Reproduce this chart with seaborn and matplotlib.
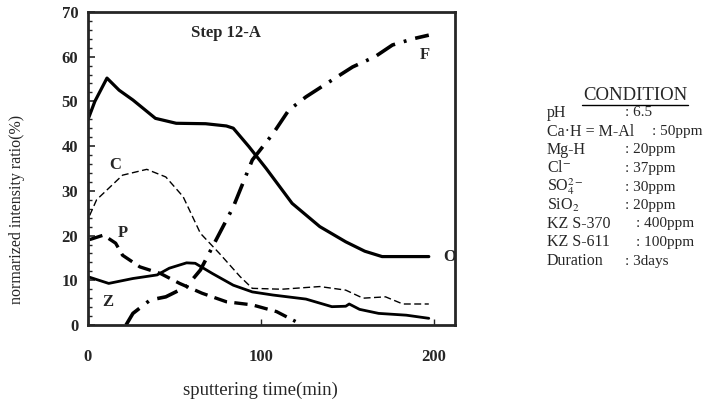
import numpy as np
import pandas as pd
import matplotlib
matplotlib.use("Agg")
import matplotlib.pyplot as plt
import seaborn as sns
from matplotlib.ticker import MultipleLocator

sns.set_style("ticks")
plt.rcParams['font.family'] = ['Liberation Serif', 'DejaVu Serif']
plt.rcParams['mathtext.fontset'] = 'stix'

# ==================== 数据 ====================
o_t = [0, 4, 11, 18, 26, 39, 51, 68, 80, 84, 93, 103, 118, 134, 149, 160, 170, 197]
o_v = [45.9, 50, 55.2, 52.5, 50.3, 46.2, 45.1, 45, 44.5, 44, 39.9, 35, 27.2, 22, 18.6, 16.5, 15.3, 15.3]

f_t = [22, 26, 36, 45, 57, 65, 72, 84, 95, 107, 116, 126, 138, 153, 166, 176, 188, 197]
f_v = [0, 2.6, 5.6, 6.3, 8.6, 12.3, 17.5, 26.4, 36.9, 42.8, 48, 51, 54, 57.7, 60, 62.6, 64, 64.8]

c_t = [1, 5, 11, 20, 34, 45, 55, 65, 76, 88, 95, 112, 134, 149, 159, 172, 182, 197]
c_v = [24.5, 28, 30.2, 33.5, 34.8, 33.1, 28.7, 20.5, 16, 10.8, 8.2, 8, 8.6, 7.8, 6, 6.3, 4.7, 4.7]

p_t = [1, 9, 16, 20, 30, 42, 53, 66, 80, 95, 109, 120]
p_v = [19.1, 20.1, 18.3, 15.6, 13, 11.5, 9.3, 7.1, 5.2, 4.5, 3, 0.8]

z_t = [0, 12, 26, 40, 47, 57, 62, 72, 84, 95, 107, 126, 141, 149, 151, 157, 168, 184, 197]
z_v = [10.8, 9.3, 10.4, 11.2, 12.7, 13.9, 13.8, 11.5, 8.9, 7.4, 6.7, 5.8, 4.1, 4.2, 4.7, 3.5, 2.6, 2.2, 1.5]

cond_keys = ['pH', 'Ca·H = M-Al', 'Mg-H', r'Cl$^{-}$', r'SO$_4^{2-}$', r'SiO$_2$',
             'KZ S-370', 'KZ S-611', 'Duration']
cond_vals = [': 6.5', ': 50ppm', ': 20ppm', ': 37ppm', ': 30ppm', ': 20ppm',
             ': 400ppm', ': 100ppm', ': 3days']

# 各曲线样式
series = {
    'O': (o_t, o_v, dict(lw=2.3, linestyle='-')),
    'F': (f_t, f_v, dict(lw=2.6, linestyle=(0, (6, 2.5, 0.8, 2.5)))),
    'C': (c_t, c_v, dict(lw=1.0, linestyle=(0, (5, 2.5)))),
    'P': (p_t, p_v, dict(lw=2.4, linestyle=(0, (4, 2.2)))),
    'Z': (z_t, z_v, dict(lw=2.0, linestyle='-')),
}

fig = plt.figure(figsize=(7.15, 4.03), dpi=100)
ax = fig.add_axes([0.123, 0.1935, 0.513, 0.777])

for name, (t, v, style) in series.items():
    df = pd.DataFrame({'t': t, 'v': v})
    sns.lineplot(data=df, x='t', y='v', ax=ax, color='black', sort=False,
                 estimator=None, **style)

ax.set_xlim(0, 212)
ax.set_ylim(0, 70)
ax.xaxis.set_major_locator(MultipleLocator(100))
ax.yaxis.set_major_locator(MultipleLocator(10))
ax.yaxis.set_minor_locator(MultipleLocator(2))
ax.tick_params(which='both', direction='in', top=False, right=False)
ax.tick_params(axis='y', which='major', length=5, width=1.2, pad=7)
ax.tick_params(axis='y', which='minor', length=3, width=1.0)
ax.tick_params(axis='x', which='major', length=4, width=1.0, pad=17)
for lbl in ax.get_xticklabels() + ax.get_yticklabels():
    lbl.set_fontsize(12)
    lbl.set_fontweight('bold')
for sp in ax.spines.values():
    sp.set_linewidth(2.0)
    sp.set_zorder(5)

ax.set_xlabel('sputtering time(min)', fontsize=13.5)
ax.set_ylabel('normarized intensity ratio(%)', fontsize=11.5)
ax.xaxis.set_label_coords(0.469, -0.18)
ax.yaxis.set_label_coords(-0.172, 0.37)

# 曲线标注
labels = [('Step 12-A', 80, 65.3), ('F', 195, 60.3), ('O', 209, 15.3), ('C', 15.6, 35.7),
          ('P', 20.4, 20.5), ('Z', 11.7, 5.2)]
for txt, x, y in labels:
    ax.text(x, y, txt, fontsize=12, fontweight='bold',
            ha='center', va='center', clip_on=False, zorder=3)

# 条件表
fig.text(635 / 715, 1 - 95 / 403, 'CONDITION', fontsize=13.5, ha='center', va='center')
fig.add_artist(plt.Line2D([582 / 715, 688 / 715], [1 - 105 / 403, 1 - 105 / 403],
                          color='black', lw=1.0))
val_x = [625, 652, 625, 625, 625, 625, 636, 636, 625]
for i, (k, v) in enumerate(zip(cond_keys, cond_vals)):
    y = 1 - (113 + 18.5 * i) / 403
    fig.text(547 / 715, y, k, fontsize=11.5, ha='left', va='center')
    fig.text(val_x[i] / 715, y, v, fontsize=11, ha='left', va='center')

fig.savefig('out.png', dpi=100)
